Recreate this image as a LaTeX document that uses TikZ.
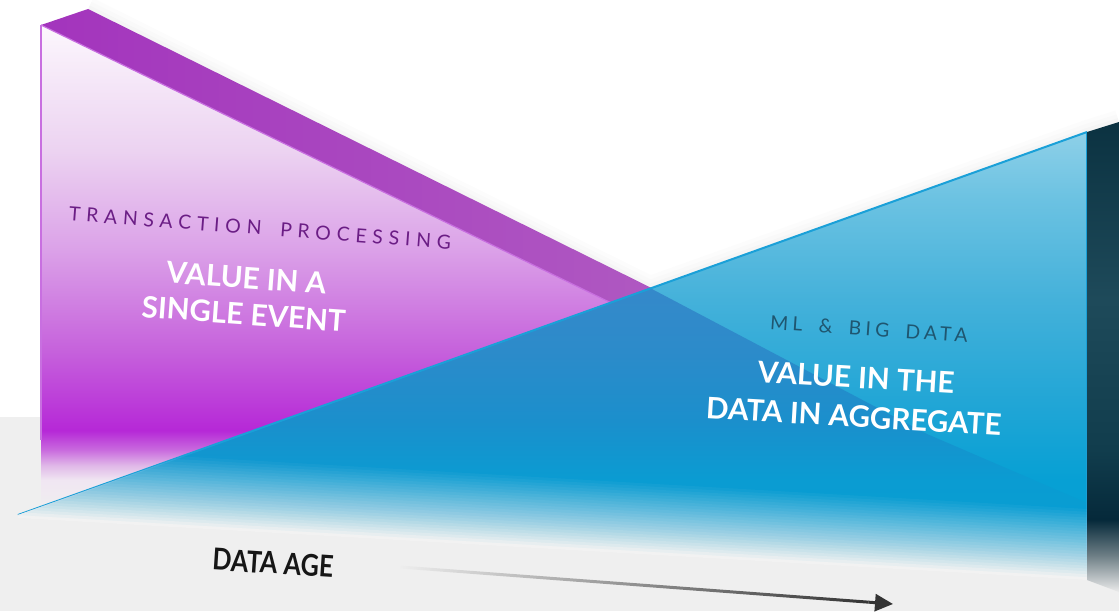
\documentclass[tikz,border=0pt]{standalone}
\usepackage{fontspec}
\setmainfont{Lato}
\usetikzlibrary{arrows.meta,fadings,calc}

\definecolor{floorc}{HTML}{EFEFEF}
\definecolor{fadec}{HTML}{F3F3F3}
% purple face
\definecolor{pA}{HTML}{F0E6F2}
\definecolor{pB}{HTML}{E0B8E8}
\definecolor{pC}{HTML}{C96ADE}
\definecolor{pD}{HTML}{B628D7}
\definecolor{pE}{HTML}{C662DC}
\definecolor{pF}{HTML}{DBA1E8}
\definecolor{pG}{HTML}{ECD3F1}
\definecolor{pH}{HTML}{FCF7FD}
\definecolor{stripL}{HTML}{A334BD}
\definecolor{stripR}{HTML}{B05BC2}
\definecolor{purpleedge}{HTML}{C86FE0}
% blue face
\definecolor{bA}{HTML}{04A0D4}
\definecolor{bB}{HTML}{07A0D4}
\definecolor{bC}{HTML}{22A6D6}
\definecolor{bD}{HTML}{44B1DA}
\definecolor{bE}{HTML}{6BC2E2}
\definecolor{bF}{HTML}{8ED0E8}
\definecolor{ovA}{HTML}{3589CA}
\definecolor{ovB}{HTML}{2C8BCA}
\definecolor{ovC}{HTML}{1B8FCC}
\definecolor{ovD}{HTML}{0A9CD2}
\definecolor{ovE}{HTML}{04A0D4}
\definecolor{blueedge}{HTML}{1AA0D8}
% dark side
\definecolor{dkA}{HTML}{0B3241}
\definecolor{dkB}{HTML}{1E4A5A}
\definecolor{dkC}{HTML}{113D4D}
\definecolor{dkD}{HTML}{05293A}
\definecolor{dkE}{HTML}{6D7E85}
\definecolor{dkF}{HTML}{EBEBEB}
% text
\definecolor{tpc}{HTML}{6B1D85}
\definecolor{mlc}{HTML}{1F5670}
\definecolor{dac}{HTML}{161616}
\definecolor{arrowc}{HTML}{333333}

\pgfdeclareverticalshading{purpleface}{100bp}{color(0bp)=(floorc); color(25bp)=(floorc); color(28.1bp)=(pA); color(29.6bp)=(pB); color(31.2bp)=(pC); color(33.2bp)=(pD); color(41.5bp)=(pE); color(51.8bp)=(pF); color(62.1bp)=(pG); color(75bp)=(pH); color(100bp)=(pH)}
\pgfdeclareverticalshading{bluefull}{100bp}{color(0bp)=(bA); color(25bp)=(bA); color(35.9bp)=(bB); color(44.9bp)=(bC); color(56.1bp)=(bD); color(67.4bp)=(bE); color(75bp)=(bF); color(100bp)=(bF)}
\pgfdeclareverticalshading{blueover}{100bp}{color(0bp)=(ovE); color(25bp)=(ovE); color(41.7bp)=(ovD); color(52.1bp)=(ovC); color(64.1bp)=(ovB); color(75bp)=(ovA); color(100bp)=(ovA)}
\pgfdeclareverticalshading{darkpanel}{100bp}{color(0bp)=(dkF); color(25bp)=(dkF); color(28.9bp)=(dkE); color(32.7bp)=(dkD); color(40.1bp)=(dkC); color(56.1bp)=(dkB); color(75bp)=(dkA); color(100bp)=(dkA)}

\tikzfading[name=fadeinright, left color=transparent!100, right color=transparent!0]

\tikzset{
  bigwhite/.style={text=white, inner sep=0pt, align=center, font=\fontsize{14.8}{18}\selectfont\bfseries},
  spaced/.style={inner sep=0pt, font=\fontsize{9.7}{12}\selectfont\addfontfeatures{LetterSpace=#1}},
  arrowline/.style={draw=arrowc, line width=1.5pt},
}

\begin{document}
\begin{tikzpicture}[x=0.5pt, y=-0.5pt, line join=round]
\useasboundingbox (0,0) rectangle (1119,611);
\fill[white] (0,0) rectangle (1119,611);
\fill[floorc] (0,417) rectangle (1119,611);

% key points
\coordinate (pTL) at (41,25);
\coordinate (pBK) at (88,9);
\coordinate (pBE) at (700,312);
\coordinate (pFE) at (640,317);
\coordinate (pBL) at (41,510);
\coordinate (pBR) at (640,510);
\coordinate (bTip) at (18,515);
\coordinate (bTR) at (1087,132);
\coordinate (bBR) at (1087,577);
\coordinate (xMid) at (650,288);
\coordinate (ovP) at (927,434);
\coordinate (ovQ) at (1087,503);
\coordinate (dTR) at (1119,122);
\coordinate (dBR) at (1119,592);
\coordinate (dBL) at (1087,580);

% soft shadows along top edges
\foreach \w/\o in {12pt/0.012,8pt/0.012,4pt/0.015}
  \draw[line width=\w, black, opacity=\o] (pBK) -- (xMid) -- (bTR) -- (dTR);

% purple wedge
\shade[shading=purpleface] (pTL) -- (pFE) -- (pBR) -- (pBL) -- cycle;
\shade[left color=stripL, right color=stripR] (pTL) -- (pBK) -- (pBE) -- (pFE) -- cycle;
\draw[purpleedge, line width=0.6pt] (pTL) -- (pFE);
\draw[purpleedge, line width=0.9pt] (pTL) -- (41,440);

% blue wedge
\shade[shading=bluefull] (bTip) -- (bTR) -- (bBR) -- cycle;
\shade[shading=blueover] (bTip) -- (xMid) -- (ovP) -- (ovQ) -- (bBR) -- cycle;
\draw[blueedge, line width=1pt] (bTip) -- (bTR);
\draw[blueedge, line width=0.6pt] (bTR) -- (1087,550);
% bottom fade (stacked layers, smooth)
\begin{scope}
  \clip (bTip) -- (bTR) -- (bBR) -- ($(bBR)+(0,3)$) -- ($(bTip)+(0,3)$) -- cycle;
  \foreach \j in {0,...,23} {
    \pgfmathsetmacro\hh{68*(1-\j/24)}
    \pgfmathsetmacro\op{1/(25-\j)}
    \fill[fadec, opacity=\op] ($(bTip)+(0,3)$) -- ($(bBR)+(0,3)$)
      -- ($(bBR)+(0,-\hh)$) -- ($(bTip)+(0,-\hh)$) -- cycle;
  }
\end{scope}

% dark side panel
\shade[shading=darkpanel] (bTR) -- (dTR) -- (dBR) -- (dBL) -- cycle;

% texts
\node[spaced=30, text=tpc, rotate=-4.3] (tp) at (260,228) {TRANSACTION\hspace{4pt} PROCESSING};
\node[bigwhite, rotate=-4.2] (single) at (245,296) {VALUE IN A\\SINGLE EVENT};
\node[spaced=22, text=mlc, rotate=-3.9] (ml) at (869,329) {ML\hspace{3.5pt} \&\hspace{3.5pt} BIG\hspace{3.5pt} DATA};
\node[bigwhite, font=\fontsize{14.8}{19.5}\selectfont\bfseries, rotate=-3.4] (aggr) at (855,397) {VALUE IN THE\\DATA IN AGGREGATE};
\node[inner sep=0pt, text=dac, font=\fontsize{15}{16}\selectfont\bfseries, rotate=-3.8] (age) at (273,563) {\scalebox{0.84}[1]{DATA AGE}};

% arrow
\coordinate (arrS) at (400,567);
\coordinate (arrE) at (893,604);
\coordinate (arrM) at ($(arrS)!0.95!(arrE)$);
\draw[arrowline, path fading=fadeinright] (arrS) -- (arrM);
\draw[arrowline, -{Triangle[length=9pt, width=8.5pt]}] (arrM) -- (arrE);
\end{tikzpicture}
\end{document}
